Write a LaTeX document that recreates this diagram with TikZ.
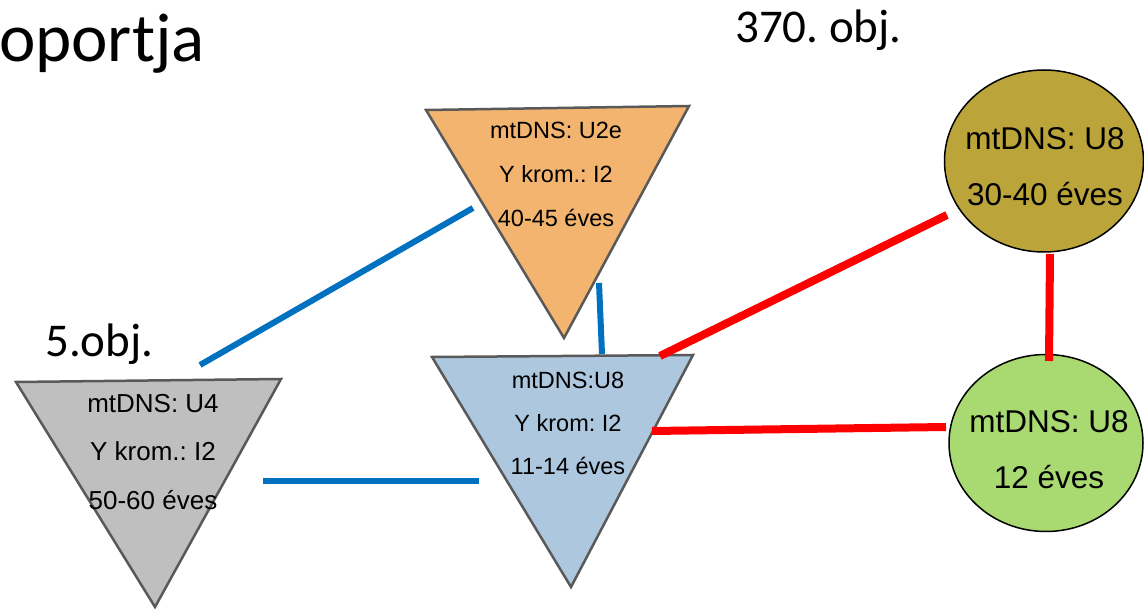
\documentclass[tikz,border=0pt]{standalone}
\usepackage{fontspec}
\setmainfont{Liberation Sans}
\newfontfamily\headfont{Carlito}
\usetikzlibrary{shapes.geometric}
\frenchspacing
\definecolor{TriOrange}{HTML}{F2B46E}
\definecolor{TriGray}{HTML}{BFBFBF}
\definecolor{TriBlue}{HTML}{ADC7DE}
\definecolor{EllOlive}{HTML}{BBA53B}
\definecolor{EllGreen}{HTML}{A9D971}
\definecolor{EdgeGray}{HTML}{595959}
\definecolor{LinkBlue}{HTML}{0070C0}
\definecolor{LinkRed}{HTML}{FF0000}
\tikzset{
  tri/.style={draw=EdgeGray, line width=2.5pt, line join=miter},
  tritext/.style={inner sep=0pt, align=center},
  ell/.style={ellipse, draw=black, line width=1.5pt, inner sep=0pt},
  elltext/.style={inner sep=0pt, align=center, font=\fontsize{31.5}{56}\selectfont},
  head/.style={inner sep=0pt, font=\headfont\fontsize{47}{50}\selectfont},
  bluelink/.style={draw=LinkBlue, line width=6pt},
  redlink/.style={draw=LinkRed, line width=8pt}
}
\begin{document}
\begin{tikzpicture}[x=1pt,y=1pt,yscale=-1,xscale=1]
		\useasboundingbox (0,0) rectangle (1144,609);

		% Headings
		\node[head, anchor=base east, font=\headfont\fontsize{69}{72}\selectfont] (title) at (205,62) {oportja};
		\node[head, anchor=base west] (obj370) at (735,43) {370. obj.};
		\node[head, anchor=base west] (obj5) at (45,357) {5.obj.};

		% Orange triangle (mtDNS: U2e)
		\filldraw[tri, fill=TriOrange] (426,110) -- (689,106) -- (564,338) -- cycle;
		\node[tritext, font=\fontsize{23.5}{44}\selectfont] (u2e) at (556,174) {mtDNS: U2e\\Y krom.: I2\\40-45 éves};

		% Gray triangle (mtDNS: U4)
		\filldraw[tri, fill=TriGray] (16,382) -- (281,379) -- (155,607) -- cycle;
		\node[tritext, font=\fontsize{26}{48.5}\selectfont] (u4) at (153,452) {mtDNS: U4\\Y krom.: I2\\50-60 éves};

		% Blue triangle (mtDNS:U8)
		\filldraw[tri, fill=TriBlue] (432,357) -- (693,355) -- (571,587) -- cycle;
		\node[tritext, font=\fontsize{23.5}{43}\selectfont] (u8c) at (568,423) {mtDNS:U8\\Y krom: I2\\11-14 éves};

		% Olive ellipse (30-40 eves)
		\node[ell, fill=EllOlive, minimum width=199, minimum height=182] (u8a) at (1044,161) {};
		\node[elltext] (u8atext) at (1045,167) {mtDNS: U8\\30-40 éves};

		% Green ellipse (12 eves)
		\node[ell, fill=EllGreen, minimum width=194, minimum height=177] (u8b) at (1046,443) {};
		\node[elltext] (u8btext) at (1049,450) {mtDNS: U8\\12 éves};

		% End points of the blue links
		\coordinate (bA1) at (200,365); \coordinate (bA2) at (473,208);
		\coordinate (bB1) at (599,283); \coordinate (bB2) at (602,354);
		\coordinate (bC1) at (263,481); \coordinate (bC2) at (479,481);

		% End points of the red links
		\coordinate (rA1) at (660,356); \coordinate (rA2) at (947,215);
		\coordinate (rB1) at (652,431); \coordinate (rB2) at (946,427);
		\coordinate (rC1) at (1050,254); \coordinate (rC2) at (1049,361);

		% Blue links
		\draw[bluelink] (bA1) -- (bA2);
		\draw[bluelink] (bB1) -- (bB2);
		\draw[bluelink] (bC1) -- (bC2);

		% Red links
		\draw[redlink] (rA1) -- (rA2);
		\draw[redlink] (rB1) -- (rB2);
		\draw[redlink] (rC1) -- (rC2);
	\end{tikzpicture}
\end{document}
